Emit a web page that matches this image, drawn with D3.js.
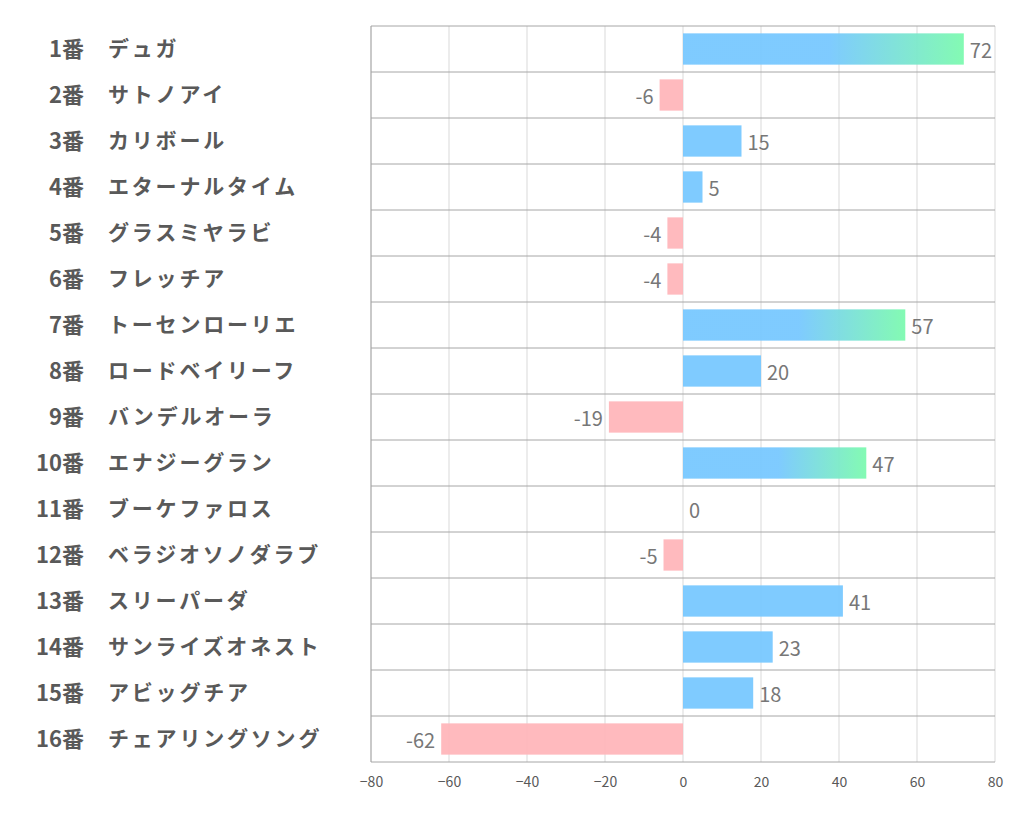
<!DOCTYPE html>
<html>
<head>
<meta charset="utf-8">
<script src="https://cdn.jsdelivr.net/npm/d3@7"></script>
<style>
  body { margin: 0; background: #fff; }
  text { font-family: "Noto Sans CJK JP", "Noto Sans", sans-serif; }
</style>
</head>
<body>
<div id="chart"></div>
<script>
const numbers = ['1番', '2番', '3番', '4番', '5番', '6番', '7番', '8番', '9番', '10番', '11番', '12番', '13番', '14番', '15番', '16番'];
const names = ['デュガ', 'サトノアイ', 'カリボール', 'エターナルタイム', 'グラスミヤラビ', 'フレッチア', 'トーセンローリエ', 'ロードベイリーフ', 'バンデルオーラ', 'エナジーグラン', 'ブーケファロス', 'ベラジオソノダラブ', 'スリーパーダ', 'サンライズオネスト', 'アビッグチア', 'チェアリングソング'];
const values = [72, -6, 15, 5, -4, -4, 57, 20, -19, 47, 0, -5, 41, 23, 18, -62];
const ticks = [-80, -60, -40, -20, 0, 20, 40, 60, 80];

const width = 1022, height = 834;
const margin = { top: 26, right: 27, bottom: 72, left: 371 };

const svg = d3.select('#chart').append('svg')
  .attr('width', width)
  .attr('height', height);

const x = d3.scaleLinear().domain([-80, 80]).range([margin.left, width - margin.right]);
const y = d3.scaleBand().domain(d3.range(values.length)).range([margin.top, height - margin.bottom]).paddingInner(0.32).paddingOuter(0.16);
const rowH = (height - margin.top - margin.bottom) / values.length;

const defs = svg.append('defs');
const grad = defs.append('linearGradient').attr('id', 'top').attr('x1', '0%').attr('x2', '100%');
grad.append('stop').attr('offset', '52%').attr('stop-color', 'rgb(120,200,255)');
grad.append('stop').attr('offset', '100%').attr('stop-color', 'rgb(125,250,175)');

// vertical grid
svg.selectAll('.vgrid').data(ticks).enter().append('line')
  .attr('x1', d => x(d)).attr('x2', d => x(d))
  .attr('y1', margin.top).attr('y2', height - margin.bottom)
  .attr('stroke', '#d9d9d9').attr('stroke-width', 1);

// row lines
svg.selectAll('.hgrid').data(d3.range(values.length + 1)).enter().append('line')
  .attr('x1', margin.left).attr('x2', width - margin.right)
  .attr('y1', d => margin.top + d * rowH).attr('y2', d => margin.top + d * rowH)
  .attr('stroke', '#a6a6a6').attr('stroke-width', 1);

svg.append('line')
  .attr('x1', margin.left).attr('x2', margin.left)
  .attr('y1', margin.top).attr('y2', height - margin.bottom)
  .attr('stroke', '#a6a6a6');

// bars
svg.selectAll('.bar').data(values).enter().append('rect')
  .attr('x', d => x(Math.min(0, d)))
  .attr('y', (d, i) => y(i))
  .attr('width', d => Math.abs(x(d) - x(0)))
  .attr('height', y.bandwidth())
  .attr('fill', d => d < 0 ? 'rgb(255,182,186)' : (d > 45 ? 'url(#top)' : 'rgb(120,200,255)'))
  .attr('opacity', 0.95);

// value labels
svg.selectAll('.val').data(values).enter().append('text')
  .attr('x', d => d < 0 ? x(d) - 6 : x(d) + 6)
  .attr('y', (d, i) => y(i) + y.bandwidth() / 2 + 2)
  .attr('dy', '0.35em')
  .attr('text-anchor', d => d < 0 ? 'end' : 'start')
  .attr('font-size', 20)
  .attr('fill', '#777')
  .text(d => d);

// category labels
svg.selectAll('.num').data(numbers).enter().append('text')
  .attr('x', 84)
  .attr('y', (d, i) => y(i) + y.bandwidth() / 2)
  .attr('dy', '0.35em')
  .attr('text-anchor', 'end')
  .attr('font-size', 22)
  .attr('font-weight', 'bold')
  .attr('fill', '#595959')
  .text(d => d);

svg.selectAll('.name').data(names).enter().append('text')
  .attr('x', 108)
  .attr('y', (d, i) => y(i) + y.bandwidth() / 2)
  .attr('dy', '0.35em')
  .attr('font-size', 21)
  .attr('font-weight', 'bold')
  .attr('letter-spacing', 2.8)
  .attr('fill', '#595959')
  .text(d => d);

// x axis
const axis = svg.append('g')
  .attr('transform', `translate(0,${height - margin.bottom})`)
  .call(d3.axisBottom(x).tickValues(ticks).tickSize(0).tickPadding(15));
axis.select('.domain').remove();
axis.selectAll('text')
  .attr('font-size', 14)
  .attr('fill', '#595959')
  .style('font-family', '"Noto Sans CJK JP", sans-serif');
</script>
</body>
</html>
